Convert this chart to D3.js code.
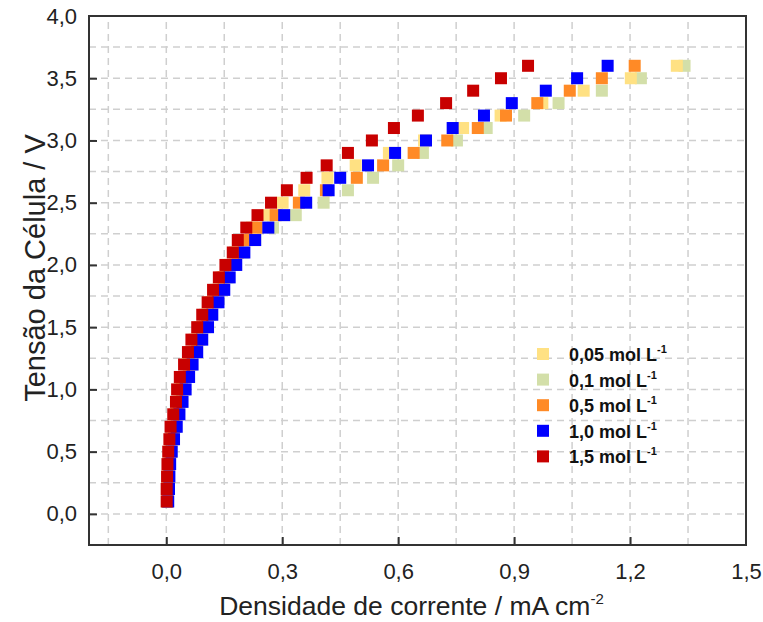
<!DOCTYPE html>
<html>
<head>
<meta charset="utf-8">
<script src="https://cdn.jsdelivr.net/npm/d3@7/dist/d3.min.js"></script>
<style>
  html, body { margin: 0; padding: 0; background: #fff; }
  svg { display: block; font-family: Arial, "Liberation Sans", sans-serif; }
</style>
</head>
<body>
<svg id="chart" width="763" height="622"></svg>
<script>
// Cell voltage (V) at which each current density was recorded
const voltage = [0.1,0.2,0.3,0.4,0.5,0.6,0.7,0.8,0.9,1.0,1.1,1.2,1.3,1.4,1.5,1.6,1.7,1.8,
                 1.9,2.0,2.1,2.2,2.3,2.4,2.5,2.6,2.7,2.8,2.9,3.0,3.1,3.2,3.3,3.4,3.5,3.6];

// Current density (mA cm-2) per electrolyte concentration
const c005 = [0.002,0.003,0.004,0.006,0.009,0.013,0.017,0.023,0.030,0.035,0.042,0.052,0.063,0.073,0.087,0.100,0.114,0.128,
              0.143,0.160,0.178,0.195,0.222,0.262,0.301,0.357,0.417,0.490,0.576,0.667,0.768,0.865,0.973,1.080,1.202,1.321];
const c01  = [0.004,0.005,0.007,0.009,0.013,0.018,0.024,0.030,0.037,0.045,0.053,0.063,0.074,0.086,0.100,0.113,0.128,0.142,
              0.158,0.176,0.198,0.230,0.276,0.335,0.407,0.470,0.535,0.600,0.664,0.752,0.829,0.926,1.015,1.127,1.228,1.341];
const c05  = [0.003,0.004,0.006,0.008,0.011,0.016,0.021,0.027,0.033,0.040,0.048,0.058,0.068,0.080,0.094,0.106,0.120,0.133,
              0.148,0.165,0.185,0.209,0.234,0.283,0.343,0.413,0.493,0.561,0.640,0.727,0.806,0.879,0.960,1.044,1.127,1.212];
const c10  = [0.005,0.007,0.008,0.010,0.014,0.020,0.027,0.034,0.042,0.050,0.059,0.068,0.080,0.093,0.108,0.119,0.135,0.150,
              0.164,0.181,0.202,0.230,0.264,0.305,0.362,0.420,0.450,0.522,0.592,0.672,0.741,0.822,0.894,0.982,1.063,1.142];
const c15  = [0.001,0.001,0.002,0.003,0.005,0.008,0.011,0.018,0.025,0.028,0.035,0.046,0.056,0.065,0.080,0.093,0.107,0.121,
              0.136,0.153,0.172,0.185,0.207,0.236,0.271,0.312,0.363,0.415,0.470,0.532,0.589,0.651,0.724,0.794,0.866,0.936];

const seriesLabels = ["0,05 mol L", "0,1 mol L", "0,5 mol L", "1,0 mol L", "1,5 mol L"];
const seriesValues = [c005, c01, c05, c10, c15];
const seriesColors = ["#ffe183", "#d3dfa9", "#ff8a26", "#0000ff", "#c80000"];
// painting order: green first so yellow sits over it, red last on top
const drawOrder = [1, 0, 2, 3, 4];

const xTicks = [0.0, 0.3, 0.6, 0.9, 1.2, 1.5];
const yTicks = [0.0, 0.5, 1.0, 1.5, 2.0, 2.5, 3.0, 3.5, 4.0];
const xGrid = [-0.15, 0.0, 0.15, 0.3, 0.45, 0.6, 0.75, 0.9, 1.05, 1.2, 1.35];
const yGrid = [0.0, 0.25, 0.5, 0.75, 1.0, 1.25, 1.5, 1.75, 2.0, 2.25, 2.5, 2.75, 3.0, 3.25, 3.5, 3.75];

const fmt = d => d.toFixed(1).replace(".", ",");

const svg = d3.select("#chart");
const box = { left: 89, right: 746, top: 16, bottom: 545 };

const x = d3.scaleLinear().domain([-0.2, 1.5]).range([box.left, box.right]);
const y = d3.scaleLinear().domain([-0.25, 4.0]).range([box.bottom, box.top]);

// dashed grid
const grid = svg.append("g").attr("stroke", "#cfcfcf").attr("stroke-width", 1.5)
  .attr("stroke-dasharray", "7,5");
grid.selectAll("line.gx").data(xGrid).join("line").attr("class", "gx")
  .attr("x1", d => x(d)).attr("x2", d => x(d))
  .attr("y1", box.bottom).attr("y2", box.top);
grid.selectAll("line.gy").data(yGrid).join("line").attr("class", "gy")
  .attr("y1", d => y(d)).attr("y2", d => y(d))
  .attr("x1", box.left).attr("x2", box.right);

// markers
const sz = 12;
const marks = svg.append("g");
drawOrder.forEach(i => {
  marks.append("g").attr("fill", seriesColors[i])
    .selectAll("rect").data(seriesValues[i].map((c, k) => [c, voltage[k]])).join("rect")
    .attr("x", d => x(d[0]) - sz / 2).attr("y", d => y(d[1]) - sz / 2)
    .attr("width", sz).attr("height", sz);
});

// axes (ticks point inward)
const axisColor = "#333";
const xAxis = svg.append("g").attr("transform", `translate(0,${box.bottom})`)
  .call(d3.axisBottom(x).tickValues(xTicks).tickSize(-8).tickPadding(18).tickFormat(fmt));
const yAxis = svg.append("g").attr("transform", `translate(${box.left},0)`)
  .call(d3.axisLeft(y).tickValues(yTicks).tickSize(-8).tickPadding(12).tickFormat(fmt));
[xAxis, yAxis].forEach(a => {
  a.select(".domain").remove();
  a.selectAll(".tick line").attr("stroke", axisColor).attr("stroke-width", 2);
  a.selectAll(".tick text").attr("fill", "#222").style("font-size", "22px")
    .style("font-family", "Arial, 'Liberation Sans', sans-serif");
});
xAxis.selectAll(".tick").filter(d => d === 1.5).select("line").remove();
yAxis.selectAll(".tick").filter(d => d === 4.0).select("line").remove();

// frame
svg.append("rect")
  .attr("x", box.left).attr("y", box.top)
  .attr("width", box.right - box.left).attr("height", box.bottom - box.top)
  .attr("fill", "none").attr("stroke", axisColor).attr("stroke-width", 2);

// axis titles
const xTitle = svg.append("text")
  .attr("x", (box.left + box.right) / 2 - 6).attr("y", 615)
  .attr("text-anchor", "middle").attr("fill", "#222").style("font-size", "26.5px");
xTitle.append("tspan").text("Densidade de corrente / mA cm");
xTitle.append("tspan").attr("dy", -11).style("font-size", "15px").text("-2");

svg.append("text")
  .attr("transform", "translate(45,268) rotate(-90)")
  .attr("text-anchor", "middle").attr("fill", "#222").style("font-size", "29px")
  .text("Tensão da Célula / V");

// legend
const legend = svg.append("g").attr("transform", "translate(543,354)");
seriesLabels.forEach((lab, i) => {
  const row = legend.append("g").attr("transform", `translate(0,${i * 25.6})`);
  row.append("rect").attr("x", -sz / 2).attr("y", -sz / 2).attr("width", sz).attr("height", sz)
    .attr("fill", seriesColors[i]);
  const t = row.append("text").attr("x", 26).attr("y", 7)
    .attr("fill", "#111").style("font-size", "18px").style("font-weight", "bold");
  t.append("tspan").text(lab);
  t.append("tspan").attr("dy", -8).style("font-size", "11px").text("-1");
});
</script>
</body>
</html>
